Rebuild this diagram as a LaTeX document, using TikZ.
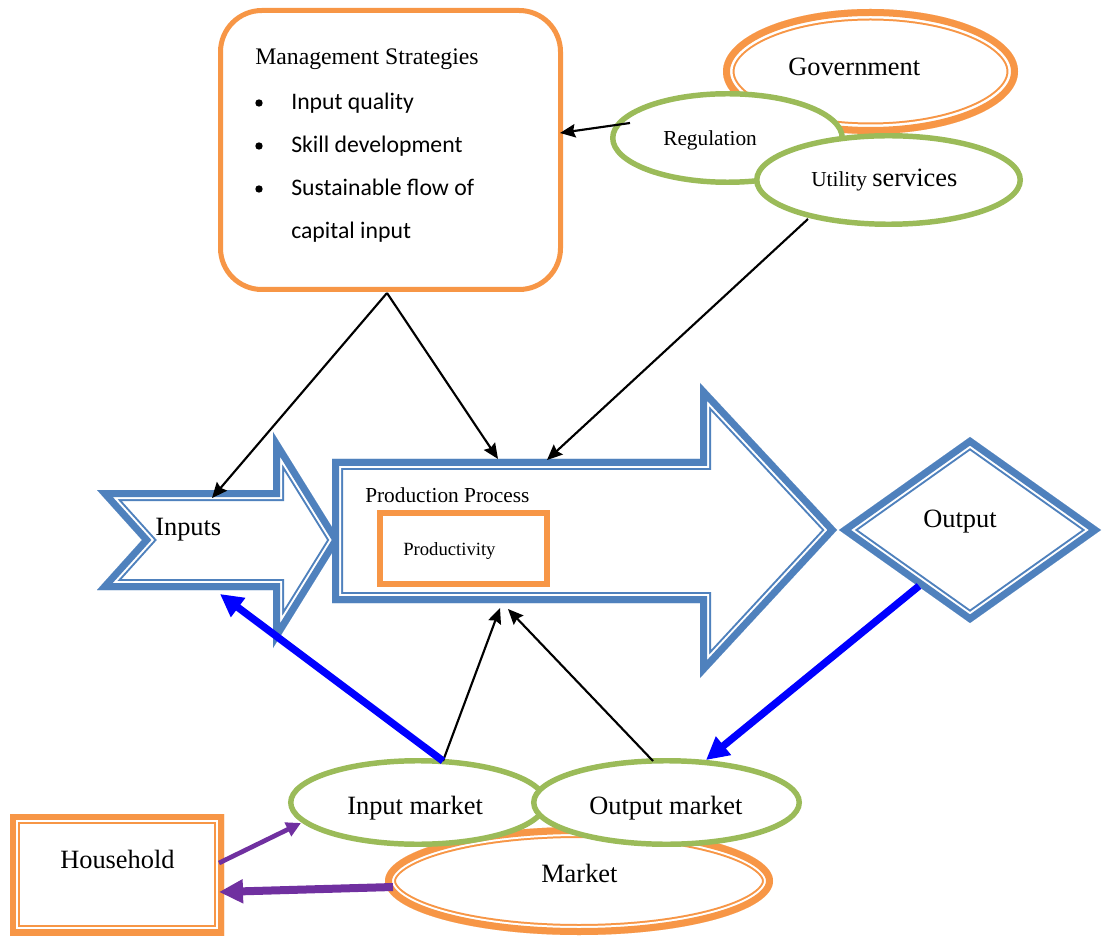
\documentclass[tikz,border=0pt]{standalone}
\usepackage{fontspec}
\setmainfont{Liberation Serif}
\newfontfamily\calfont{Carlito}
\usetikzlibrary{arrows.meta}
\definecolor{morange}{HTML}{F79646}
\definecolor{mgreen}{HTML}{9BBB59}
\definecolor{mblue}{HTML}{4F81BD}
\definecolor{pblue}{HTML}{0000FF}
\definecolor{mpurple}{HTML}{7030A0}
% double band drawn inward from the outline: #1 colour, #2 path, #3 thick, #4 gap, #5 thin (px)
\newcommand\dblband[5]{%
  \fill[white] #2;
  \begin{scope}
    \clip #2;
    \draw[#1, line width=2*(#3+#4+#5)*0.75pt] #2;
    \draw[white, line width=2*(#3+#4)*0.75pt] #2;
    \draw[#1, line width=2*#3*0.75pt] #2;
  \end{scope}}
\begin{document}
\begin{tikzpicture}[x=0.75pt,y=-0.75pt,
  lbl/.style={inner sep=0pt, anchor=base west},
  t20/.style={lbl, font=\fontsize{19.8pt}{24pt}\selectfont},
  t18/.style={lbl, font=\fontsize{17.8pt}{22pt}\selectfont},
  t16/.style={lbl, font=\fontsize{16pt}{20pt}\selectfont},
  t14/.style={lbl, font=\fontsize{14pt}{17pt}\selectfont},
  c18/.style={lbl, font=\calfont\fontsize{17.8pt}{22pt}\selectfont},
  gell/.style={draw=mgreen, line width=4.1pt, fill=white},
  blk/.style={draw=black, line width=1.6pt, -{Stealth[length=11.5pt,width=10pt,inset=1.5pt]}},
  bluearr/.style={draw=pblue, line width=5.5pt, -{Triangle[length=17pt,width=17pt]}},
  purpA/.style={draw=mpurple, line width=3.5pt, -{Triangle[length=11pt,width=11pt]}},
  purpB/.style={draw=mpurple, line width=6pt, -{Triangle[length=18pt,width=17pt]}}
]
\useasboundingbox (0,0) rectangle (1106,937);

% Management strategies
\draw[morange, line width=3.75pt, fill=white, rounded corners=31pt] (220.5,10.5) rectangle (560.5,289.5);
\node[t18] (mst) at (255,65) {Management Strategies};
\fill (259,103) circle [radius=3.7];
\fill (259,146) circle [radius=3.7];
\fill (259,189) circle [radius=3.7];
\node[c18] (b1) at (291,110) {Input quality};
\node[c18] (b2) at (291,153) {Skill development};
\node[c18] (b3) at (291,196) {Sustainable flow of};
\node[c18] (b4) at (291,239) {capital input};

% Government cluster
\dblband{morange}{(870.5,71.5) ellipse [x radius=147.5, y radius=62.5]}{7}{2.5}{2}
\node[t20] (gov) at (788,76) {Government};
\draw[gell] (727.5,138) ellipse [x radius=114.75, y radius=44.25];
\node[t16] (reg) at (663,146) {Regulation};
\draw[gell] (888.5,180) ellipse [x radius=131.75, y radius=44.25];
\node[t16] (util) at (811,187) {Utility \fontsize{19.8pt}{24pt}\selectfont services};

% Inputs arrow
\dblband{mblue}{(97,490) -- (273,490) -- (273,432) -- (340,540) -- (273,648) -- (273,590) -- (97,590) -- (142,540) -- cycle}{7}{2}{2}
\node[t20] (inp) at (155,535) {Inputs};

% Production process arrow
\dblband{mblue}{(332,459) -- (700,459) -- (700,383) -- (837,530) -- (700,678) -- (700,603) -- (332,603) -- cycle}{7}{2}{2}
\node[t16] (pp) at (365,503) {Production Process};
\draw[morange, line width=4.5pt, fill=white] (380,513) rectangle (547,584);
\node[t14] (prty) at (403,555) {Productivity};

% Output diamond
\dblband{mblue}{(839,530) -- (970,437) -- (1101,530) -- (970,623) -- cycle}{7}{2}{2}
\node[t20] (outp) at (923,527) {Output};

% Market cluster
\dblband{morange}{(579,881) ellipse [x radius=194, y radius=54]}{7}{2}{2}
\node[t20] (mkt) at (541,882) {Market};
\draw[gell] (418,802.5) ellipse [x radius=127.25, y radius=41.75];
\node[t20] (inm) at (347,814) {Input market};
\draw[gell] (666.5,802.5) ellipse [x radius=132.75, y radius=41.75];
\node[t20] (outm) at (589,814) {Output market};

% Household
\dblband{morange}{(10,814) rectangle (224,935)}{6}{2}{2}
\node[t20] (hh) at (60,868) {Household};

% connector end points
\coordinate (msS) at (387,293);
\coordinate (inT) at (212,498);
\coordinate (ppT1) at (498,459);
\coordinate (utS) at (808,219);
\coordinate (ppT2) at (547,460);
\coordinate (imT) at (443,761);
\coordinate (ppB1) at (500,608);
\coordinate (omT) at (653,761);
\coordinate (ppB2) at (508,609);
\coordinate (regW) at (630,123);
\coordinate (msE) at (560,133);
\coordinate (inB) at (220,594);
\coordinate (outSW) at (919,586);
\coordinate (omT2) at (706,760);
\coordinate (hhE1) at (219,863);
\coordinate (imW) at (301,823);
\coordinate (mkW) at (393,887);
\coordinate (hhE2) at (219,892);

% connectors
\draw[blk] (regW) -- (msE);
\draw[blk] (msS) -- (inT);
\draw[blk] (msS) -- (ppT1);
\draw[blk] (utS) -- (ppT2);
\draw[blk] (imT) -- (ppB1);
\draw[blk] (omT) -- (ppB2);
\draw[bluearr] (imT) -- (inB);
\draw[bluearr] (outSW) -- (omT2);
\draw[purpA] (hhE1) -- (imW);
\draw[purpB] (mkW) -- (hhE2);
\end{tikzpicture}
\end{document}
